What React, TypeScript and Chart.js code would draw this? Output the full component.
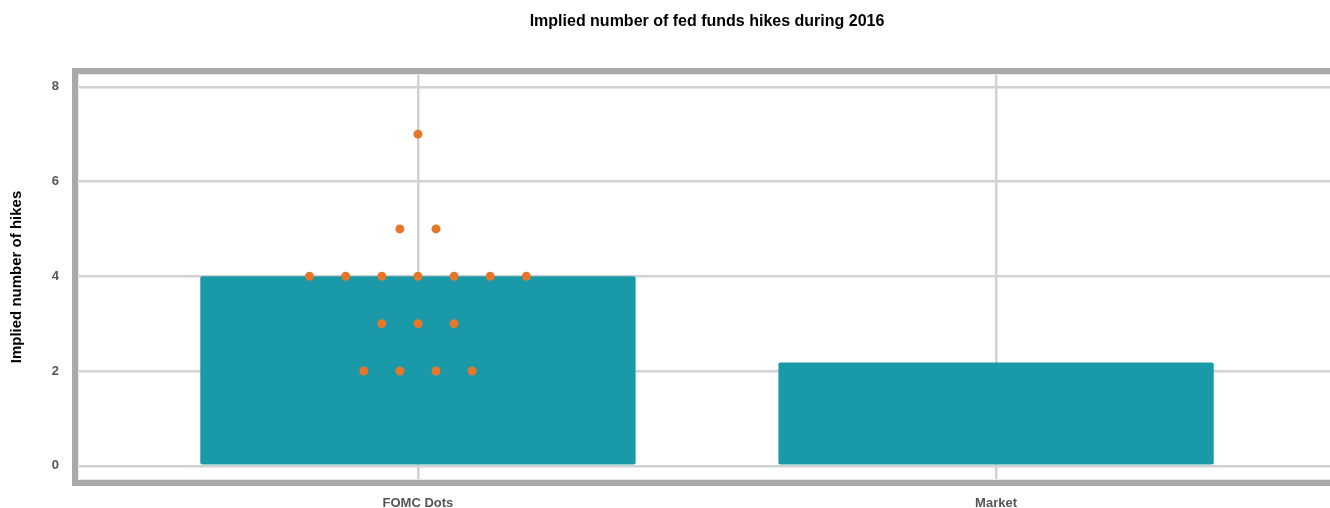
import React, { useEffect, useRef } from "react";
import { Chart, registerables } from "chart.js";

Chart.register(...registerables);

// Category names and bar heights
const categories: string[] = ["FOMC Dots", "Market"];
const barValues: number[] = [4, 2.18];

// Individual FOMC participant projections (x offset within the FOMC column, number of hikes)
const dotX: number[] = [
  0,
  -0.03125, 0.03125,
  -0.1875, -0.125, -0.0625, 0, 0.0625, 0.125, 0.1875,
  -0.0625, 0, 0.0625,
  -0.09375, -0.03125, 0.03125, 0.09375,
];
const dotY: number[] = [
  7,
  5, 5,
  4, 4, 4, 4, 4, 4, 4,
  3, 3, 3,
  2, 2, 2, 2,
];

const yTicks: number[] = [0, 2, 4, 6, 8];
const xTicks: number[] = [0, 1];

const FONT = "'Liberation Sans', Arial, Helvetica, sans-serif";

// Heavy grey frame around the plotting area
const framePlugin = {
  id: "plotFrame",
  afterDraw(chart: any) {
    const { ctx, chartArea } = chart;
    const { left, top, right, bottom } = chartArea;
    ctx.save();
    ctx.strokeStyle = "#e8e8e8";
    ctx.lineWidth = 1;
    ctx.strokeRect(left + 0.5, top + 0.5, right - left - 1, bottom - top - 1);
    ctx.strokeStyle = "#a9a9a9";
    ctx.lineWidth = 6;
    ctx.strokeRect(left - 3, top - 3, right - left + 6, bottom - top + 6);
    ctx.restore();
  },
};

export default function App() {
  const canvasRef = useRef<HTMLCanvasElement | null>(null);

  useEffect(() => {
    if (!canvasRef.current) return;
    const chart = new Chart(canvasRef.current, {
      type: "bar",
      data: {
        datasets: [
          {
            type: "scatter",
            label: "Participants",
            data: dotX.map((x, i) => ({ x, y: dotY[i] })),
            backgroundColor: "#e6762a",
            borderColor: "#e6762a",
            borderWidth: 0,
            pointRadius: 4.5,
            order: 0,
          } as any,
          {
            type: "bar",
            label: "Implied hikes",
            data: barValues.map((y, i) => ({ x: i, y })),
            backgroundColor: "#1a9aa8",
            borderRadius: 2,
            borderSkipped: false,
            barPercentage: 0.753,
            categoryPercentage: 1,
            order: 1,
          } as any,
        ],
      },
      options: {
        responsive: false,
        animation: false,
        layout: { padding: { left: 0, right: 10, top: 0, bottom: 0 } },
        plugins: {
          legend: { display: false },
          tooltip: { enabled: false },
          title: {
            display: true,
            text: "Implied number of fed funds hikes during 2016",
            fullSize: false,
            color: "#000",
            font: { family: FONT, size: 16, weight: "bold" },
            padding: { top: 12.4, bottom: 42.4 },
          },
        },
        scales: {
          x: {
            type: "linear",
            min: -0.588,
            max: 1.588,
            offset: false,
            border: { display: false },
            grid: { color: "#d2d2d2", lineWidth: 2.5, drawTicks: false, offset: false },
            afterBuildTicks: (scale: any) => {
              scale.ticks = xTicks.map((v) => ({ value: v }));
            },
            afterFit: (scale: any) => {
              scale.height = 28;
            },
            ticks: {
              padding: 16,
              color: "#555",
              font: { family: FONT, size: 13, weight: "bold" },
              callback: (v: any) => categories[Math.round(Number(v))] ?? "",
            },
          },
          y: {
            type: "linear",
            min: -0.3,
            max: 8.27,
            border: { display: false },
            grid: { color: "#d2d2d2", lineWidth: 2.5, drawTicks: false },
            afterBuildTicks: (scale: any) => {
              scale.ticks = yTicks.map((v) => ({ value: v }));
            },
            afterFit: (scale: any) => {
              scale.width = 78;
            },
            ticks: {
              padding: 19,
              color: "#555",
              font: { family: FONT, size: 13, weight: "bold" },
              callback: (v: any) => String(v),
            },
            title: {
              display: true,
              text: "Implied number of hikes",
              color: "#000",
              font: { family: FONT, size: 15, weight: "bold" },
              padding: { top: 8, bottom: 0 },
            },
          },
        },
      } as any,
      plugins: [framePlugin],
    });
    return () => chart.destroy();
  }, []);

  return (
    <div
      style={{
        position: "fixed",
        left: 0,
        top: 0,
        width: 1330,
        height: 508,
        overflow: "hidden",
        background: "#fff",
      }}
    >
      <canvas ref={canvasRef} width={1346} height={508} style={{ display: "block" }} />
    </div>
  );
}
